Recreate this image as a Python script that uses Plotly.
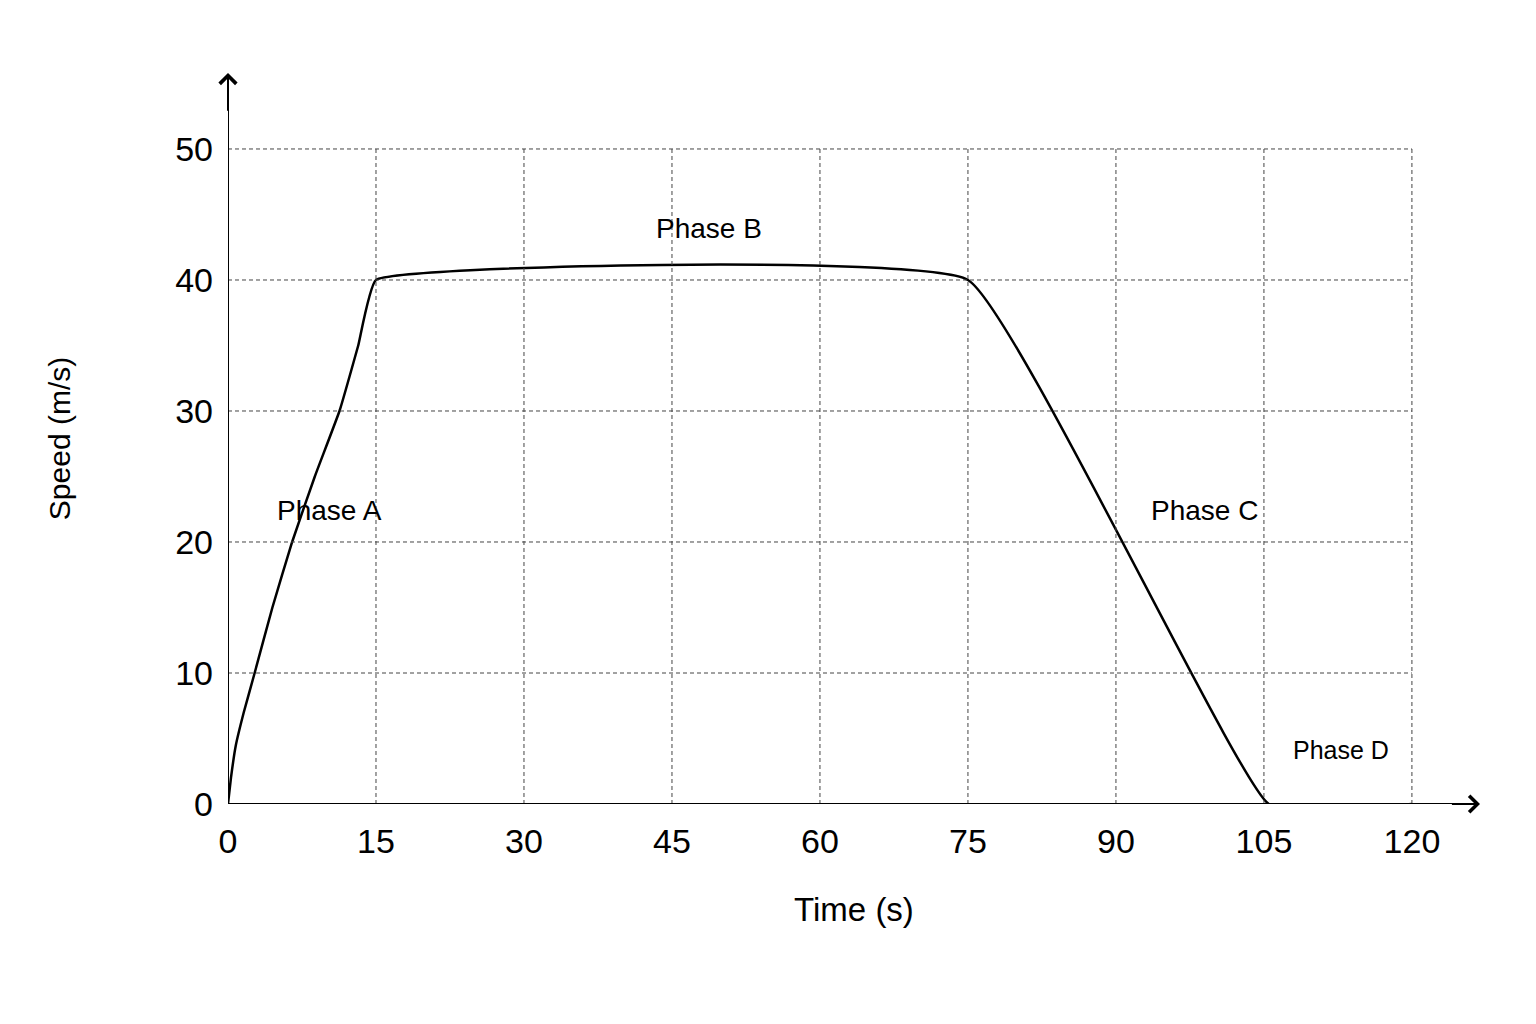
import plotly.graph_objects as go

t = [0, 0.3, 0.8, 1.6, 2.7, 4.5, 6.5, 8.8, 11.3, 13.2, 15, 75, 105.5, 120, 126]
v = [0, 2, 4.5, 7, 10, 15, 20, 25, 30, 35, 40, 40, 0, 0, 0]
xticks = [0, 15, 30, 45, 60, 75, 90, 105, 120]
yticks = [0, 10, 20, 30, 40, 50]
labels = [("Phase A", 10.3, 22.4), ("Phase B", 48.8, 43.9), ("Phase C", 99.0, 22.4), ("Phase D", 112.8, 4.1)]

XMAX, YMAX = 126.9, 55.8
fig = go.Figure(go.Scatter(x=t[:-1], y=v[:-1], mode="lines", line=dict(color="black", width=2.5, shape="spline", smoothing=0.3), hoverinfo="skip"))
shapes = []
for x in xticks[1:]:
    shapes.append(dict(type="line", x0=x, x1=x, y0=0, y1=50, line=dict(color="#444", width=1, dash="4px,3px")))
for y in yticks[1:]:
    shapes.append(dict(type="line", x0=0, x1=120, y0=y, y1=y, line=dict(color="#444", width=1, dash="4px,3px")))
shapes.append(dict(type="line", x0=0, x1=0, y0=0, y1=YMAX-0.5, line=dict(color="black", width=2)))
shapes.append(dict(type="line", x0=0, x1=XMAX-0.5, y0=0, y1=0, line=dict(color="black", width=2)))
for x in xticks:
    shapes.append(dict(type="line", x0=x, x1=x, y0=0, y1=-0.6, line=dict(color="black", width=1.5)))
for y in yticks:
    shapes.append(dict(type="line", x0=0, x1=-0.9, y0=y, y1=y, line=dict(color="black", width=1.5)))
anns = [dict(x=XMAX, y=0, ax=XMAX-3, ay=0, axref="x", ayref="y", text="", showarrow=True, arrowhead=4, arrowwidth=2, arrowsize=1.6, arrowcolor="black"),
        dict(x=0, y=YMAX, ax=0, ay=YMAX-3, axref="x", ayref="y", text="", showarrow=True, arrowhead=4, arrowwidth=2, arrowsize=1.6, arrowcolor="black")]
for s, x, y in labels:
    anns.append(dict(x=x, y=y, text=s, showarrow=False, font=dict(size=28 if s != "Phase D" else 25, color="black")))
fig.update_layout(
    width=1536, height=1024, margin=dict(l=220, r=64, t=65, b=228),
    plot_bgcolor="white", paper_bgcolor="white", showlegend=False,
    font=dict(family="Liberation Sans, Arial", color="black"),
    shapes=shapes, annotations=anns,
    xaxis=dict(range=[0, XMAX], tickvals=xticks, showgrid=False, zeroline=False, showline=False,
               tickfont=dict(size=34, color="black"), ticks="", ticklabelstandoff=14,
               title=dict(text="Time (s)", font=dict(size=33, color="black"), standoff=38)),
    yaxis=dict(range=[0, YMAX], tickvals=yticks, showgrid=False, zeroline=False, showline=False,
               tickfont=dict(size=34, color="black"), ticks="", ticklabelstandoff=14,
               title=dict(text="Speed (m/s)", font=dict(size=30, color="black"), standoff=95)),
)
fig.write_html("out.html")
